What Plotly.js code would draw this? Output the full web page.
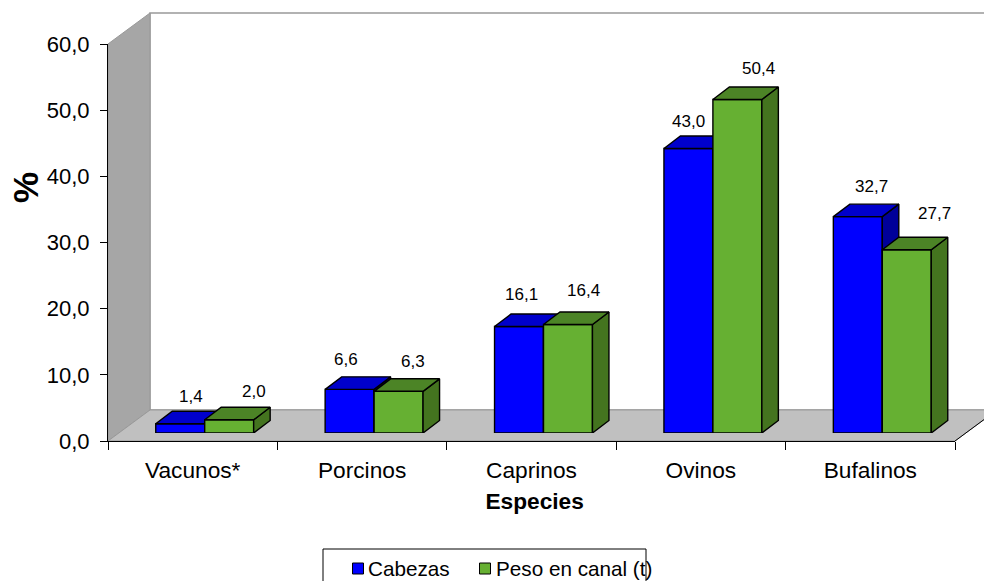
<!DOCTYPE html>
<html>
<head>
<meta charset="utf-8">
<script src="https://cdn.plot.ly/plotly-3.0.1.min.js"></script>
<style>html,body{margin:0;padding:0;background:#fff;overflow:hidden}</style>
</head>
<body>
<div id="chart" style="width:984px;height:581px"></div>
<script>
var categories = ["Vacunos*", "Porcinos", "Caprinos", "Ovinos", "Bufalinos"];
var cabezas = [1.4, 6.6, 16.1, 43.0, 32.7];
var pesoCanal = [2.0, 6.3, 16.4, 50.4, 27.7];
var seriesNames = ["Cabezas", "Peso en canal (t)"];
var yTicks = [0, 10, 20, 30, 40, 50, 60];

var labelShiftX = [[11, 25], [-4, 14], [2, 16], [0, 21], [14, 28]];
var labelShiftY = [[27, 28], [30, 30], [32, 34], [27, 31], [30, 36]];

var FONT = "Liberation Sans, Arial, sans-serif";
var W = 984, H = 581, PL = 108, PB = 441, PW = W - PL, PH = PB;
var AXW = 847, AXH = 397, BX = 12, BY = 8, DX = 16.5, DY = 12.5, WX = 42, WY = 31;
var BARW = 0.289;
var pxX = AXW / 5, pxY = AXH / 60;
var dxU = DX / pxX, dyU = DY / pxY;
function fx(px) { return (px - PL) / PW; }
function fy(py) { return (PB - py) / PH; }
function poly(pts) {
  return pts.map(function (p, i) { return (i ? "L" : "M") + fx(p[0]) + "," + fy(p[1]); }).join(" ") + " Z";
}
var idx = categories.map(function (c, i) { return i; });

function faces(vals, off, xa, ya, topCol, sideCol) {
  var xs = [], ys = [], xt = [], yt = [];
  vals.forEach(function (v, i) {
    var l = idx[i] + off, r = l + BARW;
    xs.push(r, r + dxU, r + dxU, r, r, null);
    ys.push(0, dyU, v + dyU, v, 0, null);
    xt.push(l, l + dxU, r + dxU, r, l, null);
    yt.push(v, v + dyU, v + dyU, v, v, null);
  });
  function tr(x, y, c) {
    return {type: "scatter", x: x, y: y, xaxis: xa, yaxis: ya, mode: "lines", fill: "toself",
      fillcolor: c, line: {color: "#000", width: 1.4}, hoverinfo: "skip", showlegend: false};
  }
  return [tr(xs, ys, sideCol), tr(xt, yt, topCol)];
}
function bar(vals, off, xa, ya, col, name) {
  return {type: "bar", name: name, x: idx, y: vals, xaxis: xa, yaxis: ya, offset: off, width: BARW,
    marker: {color: col, line: {color: "#000", width: 1.4}}, hoverinfo: "x+y", showlegend: false};
}
var BLUE = "#0000ff", BLUET = "#0000cc", BLUES = "#00009a";
var GREEN = "#66b032", GREENT = "#4c8426", GREENS = "#44741f";

var data = [
  {type: "scatter", x: categories, y: categories.map(function () { return 0; }), mode: "markers",
   marker: {opacity: 0}, hoverinfo: "skip", showlegend: false, xaxis: "x", yaxis: "y"}
].concat(
  [bar(cabezas, -BARW, "x2", "y2", BLUE, seriesNames[0])],
  faces(cabezas, -BARW, "x2", "y2", BLUET, BLUES),
  [bar(pesoCanal, 0, "x3", "y3", GREEN, seriesNames[1])],
  faces(pesoCanal, 0, "x3", "y3", GREENT, GREENS)
);

var shapes = [
  {type: "path", xref: "paper", yref: "paper", layer: "below", fillcolor: "#ffffff",
   line: {color: "#999999", width: 1.5},
   path: poly([[PL + WX, 44 - WY], [W + 5, 44 - WY], [W + 5, PB - WY], [PL + WX, PB - WY]])},
  {type: "path", xref: "paper", yref: "paper", layer: "below", fillcolor: "#a6a6a6",
   line: {color: "#999999", width: 1},
   path: poly([[PL, 44], [PL + WX, 44 - WY], [PL + WX, PB - WY], [PL, PB]])},
  {type: "path", xref: "paper", yref: "paper", layer: "below", fillcolor: "#c0c0c0",
   line: {color: "#999999", width: 1},
   path: poly([[PL, PB], [PL + WX, PB - WY], [PL + AXW + WX, PB - WY], [PL + AXW, PB]])},
  {type: "line", xref: "paper", yref: "paper", layer: "above", line: {color: "#000", width: 1},
   x0: fx(PL + AXW), y0: fy(PB), x1: fx(PL + AXW + WX), y1: fy(PB - WY)},
  {type: "path", xref: "paper", yref: "paper", fillcolor: "#ffffff", line: {color: "#000", width: 1},
   path: poly([[323, 549], [646, 549], [646, 600], [323, 600]])},
  {type: "rect", xref: "paper", yref: "paper", fillcolor: BLUE, line: {color: "#000", width: 1},
   x0: fx(352.5), x1: fx(363.5), y0: fy(563), y1: fy(574)},
  {type: "rect", xref: "paper", yref: "paper", fillcolor: GREEN, line: {color: "#000", width: 1},
   x0: fx(479.5), x1: fx(490.5), y0: fy(563), y1: fy(574)}
];

var annotations = [];
[cabezas, pesoCanal].forEach(function (vals, s) {
  vals.forEach(function (v, i) {
    annotations.push({
      xref: s ? "x3" : "x2", yref: s ? "y3" : "y2",
      x: idx[i] + (s ? BARW / 2 : -BARW / 2), y: v,
      text: v.toFixed(1).replace(".", ","), showarrow: false,
      xshift: labelShiftX[i][s], yshift: labelShiftY[i][s],
      xanchor: "center", yanchor: "middle",
      font: {family: FONT, size: 17, color: "#000"}
    });
  });
});
[[seriesNames[0], 368], [seriesNames[1], 496]].forEach(function (e) {
  annotations.push({xref: "paper", yref: "paper", x: fx(e[1]), y: fy(568.5), text: e[0], showarrow: false,
    xanchor: "left", yanchor: "middle", xshift: -2, font: {family: FONT, size: 20.7, color: "#000"}});
});
annotations.push({xref: "paper", yref: "paper", x: fx(25), y: fy(188), text: "<b>%</b>", showarrow: false,
  textangle: -90, xanchor: "center", yanchor: "middle", font: {family: FONT, size: 35, color: "#000"}});

function hidden(dom, anchor, rng) {
  return {domain: dom, anchor: anchor, range: rng, visible: false, fixedrange: true};
}
var layout = {
  width: W, height: H, separators: ",.", paper_bgcolor: "#fff", plot_bgcolor: "rgba(0,0,0,0)",
  margin: {l: PL, r: 0, t: 0, b: H - PB, pad: 0, autoexpand: false},
  font: {family: FONT, color: "#000"}, showlegend: false, barmode: "overlay",
  xaxis: {type: "category", categoryorder: "array", categoryarray: categories, tickson: "boundaries",
    domain: [0, AXW / PW], range: [-0.5, 4.5], anchor: "y", showgrid: false, zeroline: false,
    showline: true, linecolor: "#000", linewidth: 1, ticks: "outside", ticklen: 8, tickcolor: "#000",
    tickfont: {family: FONT, size: 22.7}, ticklabelstandoff: 9, fixedrange: true,
    title: {text: "<b>&nbsp;Especies</b>", font: {family: FONT, size: 22.7}, standoff: 10}},
  yaxis: {domain: [0, AXH / PH], range: [0, 60], anchor: "x", tickmode: "array", tickvals: yTicks,
    tickformat: ".1f", showgrid: false, zeroline: false, showline: true, linecolor: "#000", linewidth: 1,
    ticks: "outside", ticklen: 7, tickcolor: "#000", tickfont: {family: FONT, size: 22}, ticklabelstandoff: 6, fixedrange: true},
  xaxis2: hidden([BX / PW, (BX + AXW) / PW], "y2", [-0.5, 4.5]),
  yaxis2: hidden([BY / PH, (BY + AXH) / PH], "x2", [0, 60]),
  xaxis3: hidden([BX / PW, (BX + AXW) / PW], "y3", [-0.5, 4.5]),
  yaxis3: hidden([BY / PH, (BY + AXH) / PH], "x3", [0, 60]),
  shapes: shapes, annotations: annotations
};
Plotly.newPlot("chart", data, layout, {displayModeBar: false, staticPlot: true});
</script>
</body>
</html>
